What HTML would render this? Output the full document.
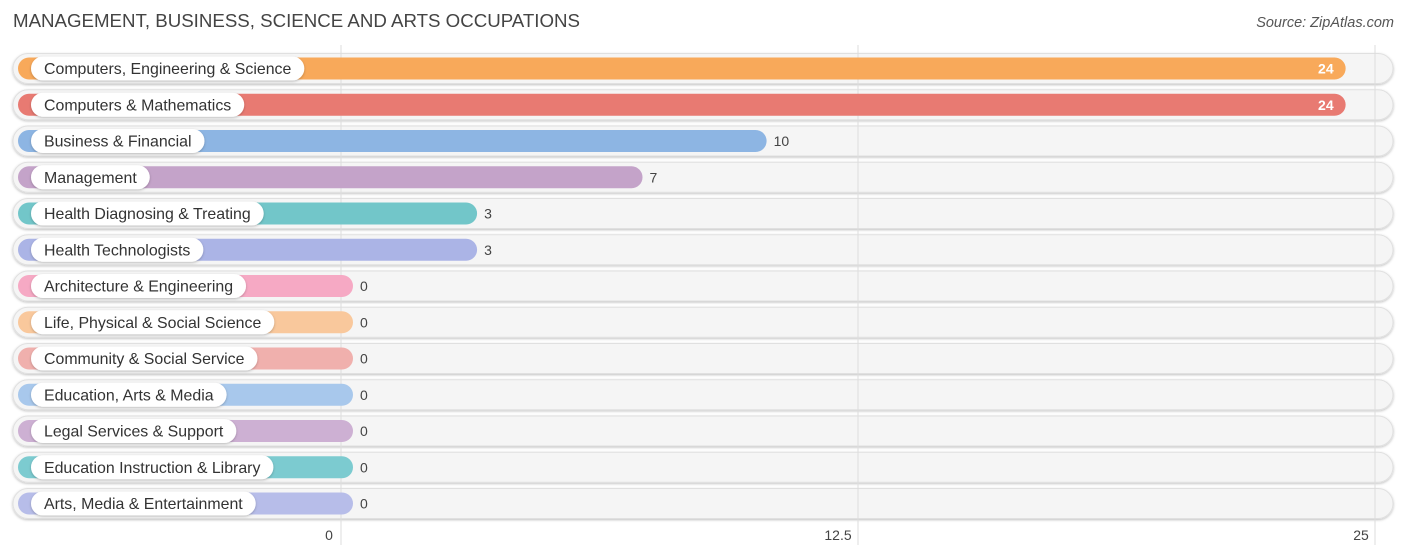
<!DOCTYPE html>
<html><head><meta charset="utf-8"><style>
body{margin:0;width:1406px;height:559px;background:#fff;font-family:"Liberation Sans",sans-serif;position:relative;overflow:hidden}
.title{position:absolute;left:13px;top:10px;font-size:18.7px;color:#444}
.src{position:absolute;right:12px;top:15px;font-size:14.5px;color:#555;font-style:italic}
</style></head><body>
<div class="title">MANAGEMENT, BUSINESS, SCIENCE AND ARTS OCCUPATIONS</div>
<div class="src">Source: ZipAtlas.com</div>
<svg id="chart" width="1406" height="559" style="position:absolute;left:0;top:0"></svg>
<script>
const categories=["Computers, Engineering & Science","Computers & Mathematics","Business & Financial","Management","Health Diagnosing & Treating","Health Technologists","Architecture & Engineering","Life, Physical & Social Science","Community & Social Service","Education, Arts & Media","Legal Services & Support","Education Instruction & Library","Arts, Media & Entertainment"];
const values=[24,24,10,7,3,3,0,0,0,0,0,0,0];
const colors=["#f8a95a","#e87a72","#8db5e3","#c4a3c9","#72c6c9","#abb4e6","#f6a9c4","#f9c89c","#f0b0ad","#a8c8ec","#cdb0d3","#7ccbd0","#b7bde9"];
const tickValues=[0,12.5,25];
const tickLabels=["0","12.5","25"];
const NS="http://www.w3.org/2000/svg";
const svg=document.getElementById("chart");
function gx(v){return 341+v*(1375-341)/25;}
function bx(v){return 353+v*41.36;}
function ry(i){return 68.5+i*36.25;}
function mk(t,a){const e=document.createElementNS(NS,t);for(const k in a)e.setAttribute(k,a[k]);svg.appendChild(e);return e;}
const defs=mk("defs",{});
defs.innerHTML='<filter id="sh" x="-10%" y="-30%" width="120%" height="160%"><feDropShadow dx="0" dy="1" stdDeviation="1.2" flood-color="#000" flood-opacity="0.25"/></filter>';
categories.forEach((c,i)=>{
  const y=ry(i);
  const bg=mk("rect",{x:13,y:y-15,width:1380,height:30,rx:15,fill:"#f5f5f5",stroke:"#e0e0e0","stroke-width":1,filter:"url(#sh)"});
  
  
});
tickValues.forEach((t,i)=>{
  const l=mk("line",{x1:gx(t),x2:gx(t),y1:45,y2:545,stroke:"#ddd","stroke-width":1});
  
  
  const tx=mk("text",{x:gx(t)+(i==0?-12:i==2?-14:-20),y:540,"font-size":14,fill:"#444","text-anchor":"middle"});
  tx.textContent=tickLabels[i];
  
  
});
categories.forEach((c,i)=>{
  const y=ry(i);
  const b=mk("rect",{x:18,y:y-11,width:bx(values[i])-18,height:22,rx:11,fill:colors[i]});
  
  
  const p=mk("rect",{x:31,y:y-12,width:100,height:24,rx:12,fill:"#fff",filter:"url(#sh)"});
  
  
  const t=mk("text",{x:44,y:y+5.5,"font-size":15.9,fill:"#333"});
  t.textContent=c;
  
  
  p.setAttribute("width",t.getComputedTextLength()+26);
  const inside=values[i]>=20;
  const v=mk("text",{x:inside?bx(values[i])-12:bx(values[i])+7,y:y+5,"font-size":14,fill:inside?"#fff":"#444","text-anchor":inside?"end":"start","font-weight":inside?"bold":"normal"});
  v.textContent=values[i];
  
  
});
</script>
</body></html>
